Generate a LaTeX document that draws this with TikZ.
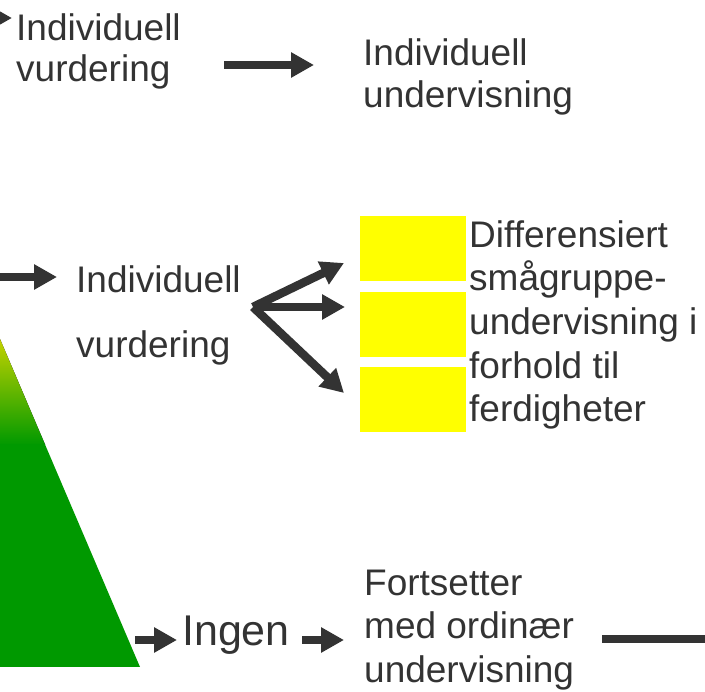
\documentclass[tikz,border=0pt]{standalone}
\usepackage{fontspec}
\setmainfont{Liberation Sans}
\usetikzlibrary{arrows.meta}
\definecolor{txt}{HTML}{333333}
\definecolor{arr}{HTML}{333333}
\definecolor{ygreen}{HTML}{C4D200}
\definecolor{mgreen}{HTML}{009900}
\definecolor{ybox}{HTML}{FFFF00}
\tikzset{
  lbl/.style={inner sep=0pt, anchor=base west, align=left, text=txt},
  fat/.style={draw=arr, line width=8.5pt, -{Triangle[length=23pt,width=24pt]}},
  bar/.style={draw=arr, line width=8.5pt},
  ybx/.style={fill=ybox, draw=none, minimum width=106pt, minimum height=65pt, inner sep=0pt, anchor=north west}
}
\begin{document}
\begin{tikzpicture}[x=1pt,y=-1pt]
\useasboundingbox (0,0) rectangle (705,692);
\clip (0,0) rectangle (705,692);
% green wedge
\begin{scope}
\clip (0,339) -- (140,667) -- (0,667) -- cycle;
\fill[top color=ygreen, bottom color=mgreen] (0,339) rectangle (150,445);
\fill[mgreen] (0,444) rectangle (150,668);
\end{scope}
% top row (anchor = baseline of last line)
\node[lbl, font=\fontsize{37}{41}\selectfont] (iv1) at (16,82) {Individuell\\vurdering};
\node[lbl, font=\fontsize{37}{42}\selectfont] (iu) at (363,108) {Individuell\\undervisning};
\coordinate (t0) at (-30,18); \coordinate (t1) at (12,18);
\draw[fat] (t0) -- (t1);
\coordinate (a0) at (224,65); \coordinate (a1) at (314,65);
\draw[fat] (a0) -- (a1);
% middle row
\node[lbl, font=\fontsize{37}{65}\selectfont] (iv2) at (76,358) {Individuell\\vurdering};
\coordinate (m0) at (-10,277); \coordinate (m1) at (57,277);
\draw[fat] (m0) -- (m1);
\coordinate (o) at (253,307);
\coordinate (u1) at (344,263);
\coordinate (u2) at (345,307);
\coordinate (u3) at (344,393);
\draw[fat] (o) -- (u1);
\draw[fat] (o) -- (u2);
\draw[fat] (o) -- (u3);
\node[ybx] (y1) at (360,216) {};
\node[ybx] (y2) at (360,292) {};
\node[ybx] (y3) at (360,367) {};
\node[lbl, font=\fontsize{37}{43.7}\selectfont] (diff) at (469,422) {Differensiert\\smågruppe-\\undervisning i\\forhold til\\ferdigheter};
% bottom row
\coordinate (b0) at (135,640); \coordinate (b1) at (177,640);
\draw[fat] (b0) -- (b1);
\node[lbl, font=\fontsize{43}{44}\selectfont] (ingen) at (182,646) {Ingen};
\coordinate (c0) at (302,640); \coordinate (c1) at (344,640);
\draw[fat] (c0) -- (c1);
\node[lbl, font=\fontsize{37}{44}\selectfont] (fort) at (364,683) {Fortsetter\\med ordinær\\undervisning};
\coordinate (d0) at (602,639); \coordinate (d1) at (730,639);
\draw[bar] (d0) -- (d1);
\end{tikzpicture}
\end{document}
